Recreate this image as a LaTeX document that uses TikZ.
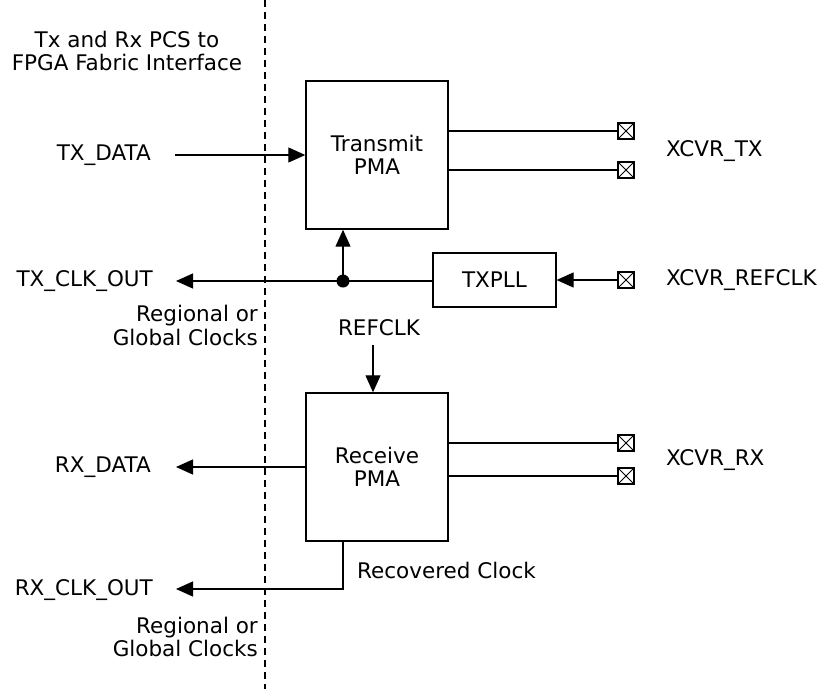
\documentclass[tikz,border=0pt]{standalone}
\usepackage{fontspec}
\setmainfont{DejaVu Sans}
\usetikzlibrary{arrows.meta}
\begin{document}
\begin{tikzpicture}[x=1pt,y=-1pt,
  every node/.style={font=\fontsize{21.5}{23.5}\selectfont, inner sep=0pt},
  blk/.style={draw, line width=1.4pt, align=center, minimum width=142pt, minimum height=148pt},
  pllbox/.style={draw, line width=1.2pt, minimum width=123pt, minimum height=54pt},
  xpad/.style={draw, line width=1.1pt, minimum width=16pt, minimum height=16pt,
    path picture={\draw[line width=0.8pt] (path picture bounding box.north west) -- (path picture bounding box.south east)
      (path picture bounding box.north east) -- (path picture bounding box.south west);}},
  wire/.style={line width=1.1pt},
  arr/.style={line width=1.1pt, -{Triangle[length=17pt,width=15pt]}},
  lbl/.style={align=center}
]
\useasboundingbox (0,0) rectangle (823,689);
% dashed boundary
\coordinate (dtop) at (265,0);
\coordinate (dbot) at (265,689);
\draw[line width=1.1pt, dash pattern=on 7pt off 5pt] (dtop) -- (dbot);

\node[lbl] (title) at (127,51) {Tx and Rx PCS to\\FPGA Fabric Interface};

% blocks
\node[blk] (txpma) at (377,155) {Transmit\\PMA};
\node[blk] (rxpma) at (377,467) {Receive\\PMA};
\node[pllbox] (txpll) at (494.5,280) {TXPLL};

% pads
\node[xpad] (p1) at (626,131) {};
\node[xpad] (p2) at (626,170) {};
\node[xpad] (p3) at (626,280) {};
\node[xpad] (p4) at (626,443) {};
\node[xpad] (p5) at (626,476) {};

% labels
\node[anchor=east] (txdata) at (151,155) {TX\_DATA};
\node[anchor=east] (txclk) at (153,281) {TX\_CLK\_OUT};
\node[anchor=east] (rxdata) at (151,467) {RX\_DATA};
\node[anchor=east] (rxclk) at (153,590) {RX\_CLK\_OUT};
\node[anchor=east, align=right] (reg1) at (258,325.5) {Regional or\\Global Clocks};
\node[anchor=east, align=right] (reg2) at (258,637) {Regional or\\Global Clocks};
\node[anchor=west] (xtx) at (666,151) {XCVR\_TX};
\node[anchor=west] (xref) at (666,280) {XCVR\_REFCLK};
\node[anchor=west] (xrx) at (666,460) {XCVR\_RX};
\node (refclk) at (379,328) {REFCLK};
\node[anchor=west] (recov) at (357,570) {Recovered Clock};

% TX data
\coordinate (txd0) at (175,155);
\draw[arr] (txd0) -- (txpma.west);
% TX outputs
\draw[wire] (txpma.east |- p1) -- (p1.west);
\draw[wire] (txpma.east |- p2) -- (p2.west);
% clock
\node[circle, fill, minimum size=13pt] (dot) at (343,281) {};
\coordinate (txc0) at (176,281);
\draw[wire] (txpll.west |- dot) -- (dot.center);
\draw[arr] (dot.center) -- (txc0);
\draw[arr] (dot.center) -- (dot |- txpma.south);
\draw[arr] (p3.west) -- (txpll.east);
% REFCLK
\coordinate (rc0) at (373,345);
\draw[arr] (rc0) -- (rc0 |- rxpma.north);
% RX outputs
\draw[wire] (rxpma.east |- p4) -- (p4.west);
\draw[wire] (rxpma.east |- p5) -- (p5.west);
% RX data
\coordinate (rxd0) at (176,467);
\draw[arr] (rxpma.west) -- (rxd0);
% recovered clock
\coordinate (rcb) at (343,589);
\coordinate (rxc0) at (176,589);
\draw[arr] (rcb |- rxpma.south) -- (rcb) -- (rxc0);
\end{tikzpicture}
\end{document}
